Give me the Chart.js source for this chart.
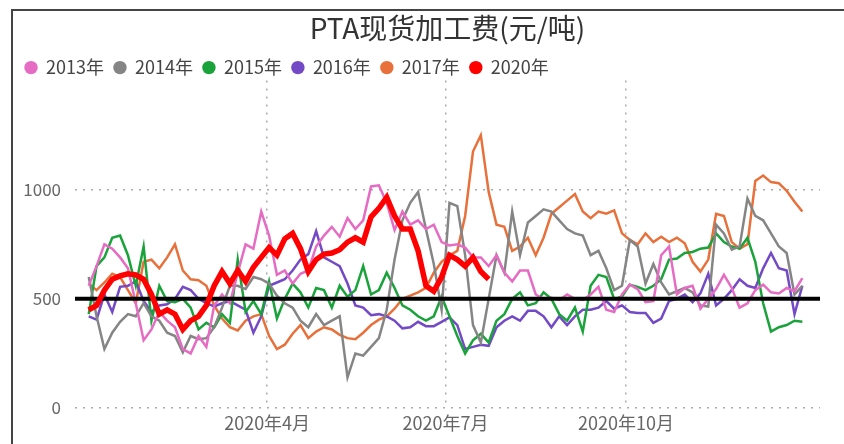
<!DOCTYPE html>
<html>
<head>
<meta charset="utf-8">
<script src="https://cdn.jsdelivr.net/npm/chart.js@4"></script>
<style>
  html, body { margin: 0; padding: 0; background: #fff; }
  #wrap { position: relative; width: 844px; height: 444px; }
  #frame { position: absolute; left: 11px; top: 9px; right: 0; bottom: 0;
           border-left: 2px solid #444; border-top: 2px solid #444; pointer-events: none; }
</style>
</head>
<body>
<div id="wrap">
  <canvas id="myChart" width="844" height="444"></canvas>
  <div id="frame"></div>
</div>
<script>
// day of year 2020, one point every 4 days
var days = Array.from({ length: 92 }, (_, i) => i * 4);

var years = ["2013年", "2014年", "2015年", "2016年", "2017年", "2020年"];
var colors = ["#E66CC3", "#858585", "#1BA33B", "#7449C6", "#E8703A", "#FF0000"];

var v2013 = [560, 650, 750, 730, 690, 640, 480, 310, 360, 440,
  400, 370, 270, 250, 330, 280, 470, 520, 480, 620,
  750, 730, 900, 790, 610, 630, 570, 615, 630, 740,
  790, 830, 785, 870, 820, 860, 1015, 1020, 940, 815,
  900, 840, 860, 820, 840, 760, 745, 750, 735, 690,
  690, 650, 700, 620, 580, 630, 630, 520, 500, 505,
  495, 520, 500, 495, 520, 555, 450, 440, 520, 565,
  545, 485, 490, 700, 740, 520, 550, 560, 455, 500,
  545, 610, 550, 460, 480, 540, 565, 530, 525, 550,
  535, 595];
var v2014 = [600, 420, 270, 345, 395, 430, 420, 480, 420, 400,
  345, 330, 255, 330, 315, 320, 370, 460, 560, 560,
  545, 600, 590, 570, 515, 480, 460, 400, 370, 430,
  380, 400, 420, 140, 250, 240, 280, 320, 450, 680,
  860, 940, 990, 820, 660, 450, 940, 925, 700, 380,
  300, 500, 700, 620, 900, 700, 850, 880, 910, 900,
  860, 820, 800, 790, 700, 720, 640, 540, 560, 770,
  740, 570, 660, 575, 520, 535, 550, 530, 470, 465,
  840, 800, 725, 740, 960, 880, 860, 800, 740, 710,
  520, 560];
var v2015 = [430, 650, 690, 780, 790, 700, 560, 740, 400, 560,
  490, 485, 500, 460, 360, 390, 370, 430, 390, 680,
  440, 490, 430, 580, 410, 500, 570, 530, 460, 550,
  540, 460, 560, 510, 540, 650, 520, 540, 620, 550,
  470, 450, 420, 400, 420, 510, 420, 330, 250, 310,
  340, 300, 400, 430, 500, 530, 470, 480, 530, 500,
  430, 400, 460, 350, 560, 610, 600, 500, 510, 565,
  555, 540, 560, 590, 680, 685, 710, 715, 730, 735,
  800, 760, 740, 730, 780, 670, 480, 350, 370, 380,
  400, 395];
var v2016 = [420, 405, 520, 440, 555, 560, 580, 490, 440, 470,
  475, 500, 555, 540, 500, 480, 465, 480, 490, 470,
  450, 345, 420, 560, 575, 590, 630, 680, 705, 810,
  690, 670, 650, 570, 470, 460, 425, 430, 420, 400,
  365, 370, 395, 375, 375, 395, 415, 380, 270, 280,
  290, 285, 370, 400, 420, 400, 445, 445, 420, 370,
  420, 380, 420, 450, 450, 460, 490, 455, 470, 440,
  435, 435, 390, 410, 490, 500, 520, 485, 525, 615,
  470, 500, 540, 590, 560, 550, 640, 710, 640, 630,
  430, 560];
var v2017 = [570, 540, 575, 615, 600, 540, 480, 670, 680, 640,
  690, 750, 630, 590, 585, 560, 470, 410, 370, 355,
  400, 420, 430, 330, 270, 290, 340, 380, 320, 350,
  370, 360, 335, 320, 315, 345, 380, 405, 420, 455,
  500, 515, 530, 550, 620, 670, 700, 720, 880, 1175,
  1250, 990, 840, 830, 720, 740, 780, 700, 780, 890,
  920, 950, 980, 900, 870, 900, 890, 905, 800, 770,
  750, 800, 760, 785, 760, 780, 755, 670, 625, 680,
  890, 880, 760, 730, 750, 1040, 1065, 1035, 1030, 995,
  945, 900];
var v2020 = [450, 470, 540, 590, 605, 615, 610, 590, 520, 430,
  450, 430, 360, 400, 420, 470, 560, 625, 570, 630,
  580, 645, 690, 735, 700, 775, 800, 730, 625, 680,
  705, 710, 725, 760, 780, 760, 875, 915, 965, 880,
  820, 820, 720, 560, 535, 600, 700, 680, 650, 690,
  625, 590];

var tickDays = [91, 182, 274];
var tickLabels = ["2020年4月", "2020年7月", "2020年10月"];
var yTicks = [0, 500, 1000];
var baseline = 500;
var xMin = -7, xMax = 373;

var series = [v2013, v2014, v2015, v2016, v2017, v2020];

function toPoints(vals) {
  return vals.map((v, i) => ({ x: days[i], y: v }));
}

var datasets = series.map((vals, i) => ({
  label: years[i],
  data: toPoints(vals),
  borderColor: colors[i],
  backgroundColor: colors[i],
  borderWidth: i == 5 ? 5.5 : 2.5,
  pointRadius: 0,
  tension: 0,
  order: i == 5 ? -2 : i,
}));
// 500 reference line
datasets.push({
  label: "",
  data: [{ x: xMin, y: baseline }, { x: xMax, y: baseline }],
  borderColor: "#000",
  backgroundColor: "#000",
  borderWidth: 4,
  pointRadius: 0,
  order: -1,
});

Chart.defaults.font.family = "'Noto Sans CJK SC', sans-serif";

var ctx = document.getElementById("myChart");
var myChart = new Chart(ctx, {
  type: "line",
  data: { datasets: datasets },
  options: {
    responsive: false,
    animation: false,
    layout: { padding: { left: 15, right: 24, top: 0, bottom: 0 } },
    plugins: {
      tooltip: { enabled: false },
      title: {
        display: true,
        text: "PTA现货加工费(元/吨)",
        fullSize: false,
        color: "#333",
        font: { size: 28, weight: "normal" },
        padding: { top: 12, bottom: 3 },
      },
      legend: {
        align: "start",
        maxHeight: 32,
        labels: {
          usePointStyle: true,
          pointStyle: "circle",
          boxWidth: 12,
          boxHeight: 9.5,
          padding: 10,
          color: "#444",
          font: { size: 18 },
          generateLabels: (chart) =>
            Chart.defaults.plugins.legend.labels.generateLabels(chart)
              .filter((item) => item.datasetIndex < years.length)
              .sort((a, b) => a.datasetIndex - b.datasetIndex)
              .map((item) => Object.assign(item, { lineWidth: 0, strokeStyle: item.fillStyle })),
        },
      },
    },
    scales: {
      x: {
        type: "linear",
        min: xMin,
        max: xMax,
        afterBuildTicks: (scale) => {
          scale.ticks = tickDays.map((d) => ({ value: d }));
        },
        afterFit: (scale) => { scale.height = 36; },
        ticks: {
          color: "#666",
          font: { size: 18 },
          padding: 4,
          maxRotation: 0,
          autoSkip: false,
          callback: (v) => tickLabels[tickDays.indexOf(v)],
        },
        grid: { color: "#aaa", lineWidth: 1.5, drawTicks: false },
        border: { display: false, dash: [2, 6] },
      },
      y: {
        min: 0,
        max: 1500,
        afterBuildTicks: (scale) => {
          scale.ticks = yTicks.map((v) => ({ value: v }));
        },
        afterFit: (scale) => { scale.width = 60; },
        ticks: {
          color: "#666",
          font: { size: 17 },
          padding: 14,
          callback: (v) => String(v),
        },
        grid: { color: "#aaa", lineWidth: 1.5, drawTicks: false },
        border: { display: false, dash: [2, 6] },
      },
    },
  },
});
</script>
</body>
</html>
